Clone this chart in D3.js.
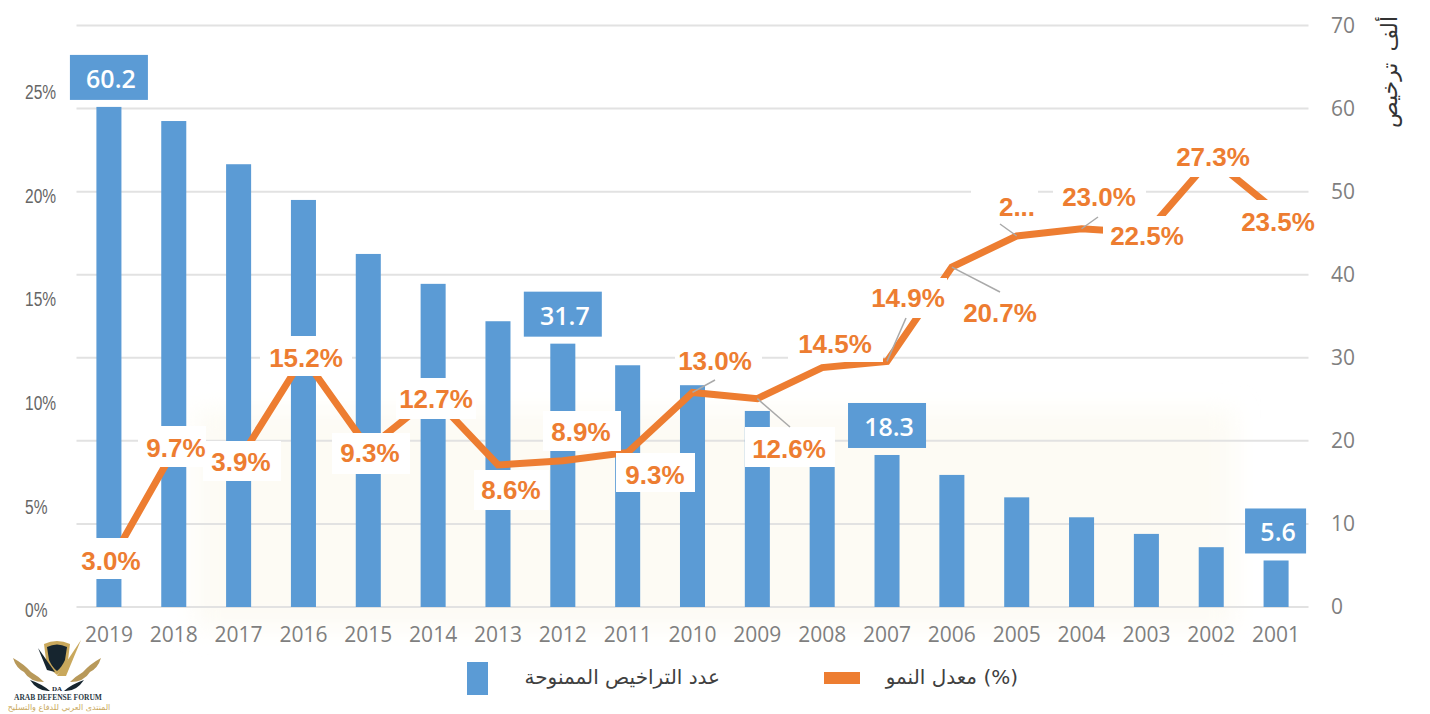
<!DOCTYPE html>
<html>
<head>
<meta charset="utf-8">
<script src="https://cdn.jsdelivr.net/npm/d3@7"></script>
<style>
  html, body { margin: 0; background: #fff; }
  svg { display: block; }
</style>
</head>
<body>
<svg id="chart"></svg>
<script>
const years = ["2019","2018","2017","2016","2015","2014","2013","2012","2011","2010","2009","2008","2007","2006","2005","2004","2003","2002","2001"];
const licences = [60.2,58.5,53.3,49,42.5,38.9,34.4,31.7,29.1,26.7,23.6,21,18.3,15.9,13.2,10.8,8.8,7.2,5.6];
// the line sits where the picture has it, which is not always what its label says
const growthPlotted = [2.2,7.7,7.2,12.2,7.8,10.3,7,7.2,7.6,10.5,10.2,11.7,12,16.55,18.05,18.4,18.2,21.8,19.25];
const growthLabels = ["3.0%","9.7%","3.9%","15.2%","9.3%","12.7%","8.6%","8.9%","9.3%","13.0%","12.6%","14.5%","14.9%","20.7%","2...","23.0%","22.5%","27.3%","23.5%"];
const leftTicks = [0,5,10,15,20,25];
const rightTicks = [0,10,20,30,40,50,60,70];
const calloutYears = ["2019","2012","2007","2001"];
const legendBars = "عدد التراخيص الممنوحة";
const legendLine = "معدل النمو (%)";
const axisTitle = "ألف ترخيص";

// label placement per year, in page pixels: [text x, text y, box left, box top, box right, box bottom]
const labelPlace = [
  [111,561,80,538,143,579],[176,448,138,426,206,467],[241,462,203,441,281,481],[306,358,260,336,352,376],
  [370,453,332,433,410,474],[436,399,396,378,476,419],[511,490,474,470,549,510],[581,432,543,411,621,451],
  [655,475,616,453,695,492],[715,361,675,341,762,380],[789,449,745,427,835,467],[835,344,788,325,883,362],
  [908,298,870,278,947,318],[1000,313,960,292,1040,332],[1017,207,971,188,1038,226],[1099,197,1053,177,1146,217],
  [1147,236,1103,216,1190,256],[1213,157,1172,137,1255,177],[1278,222,1238,200,1318,241]
];

// leader lines: year and the free end
const leaders = [["2010",715,380],["2009",790,427],["2007",906,318],["2006",1000,292],["2005",1000,224],["2004",1098,217]];

const width = 1430, height = 714;
const svg = d3.select("#chart").attr("width", width).attr("height", height);

const x = d3.scaleBand().domain(years).range([76.5, 1308.5]).paddingInner(0.614).paddingOuter(0.307);
const yBars = d3.scaleLinear().domain([0, 70]).range([607, 25.5]);
const yGrowth = d3.scaleLinear().domain([0, 25]).range([610, 92]);
const centre = y => x(y) + x.bandwidth() / 2;

const defs = svg.append("defs");
defs.append("filter").attr("id", "soft")
    .attr("x", "-10%").attr("y", "-20%").attr("width", "120%").attr("height", "140%")
    .append("feGaussianBlur").attr("stdDeviation", 12);

// faint cream smudge behind the lower half
svg.append("rect").attr("x", 195).attr("y", 410).attr("width", 1040).attr("height", 218)
   .attr("fill", "#fdfbf4").attr("filter", "url(#soft)");

// gridlines
svg.append("g").selectAll("line").data(rightTicks).join("line")
   .attr("x1", 76.5).attr("x2", 1308.5)
   .attr("y1", d => yBars(d)).attr("y2", d => yBars(d))
   .attr("stroke", "#e2e2e2").attr("stroke-width", 2);

// bars
svg.append("g").selectAll("rect").data(licences).join("rect")
   .attr("x", (d, i) => x(years[i]))
   .attr("width", x.bandwidth())
   .attr("y", d => yBars(d))
   .attr("height", d => yBars(0) - yBars(d))
   .attr("fill", "#5b9bd5");

// growth line
const line = d3.line().x((d, i) => centre(years[i])).y(d => yGrowth(d));
svg.append("path").datum(growthPlotted).attr("d", line)
   .attr("fill", "none").attr("stroke", "#ed7d31").attr("stroke-width", 7).attr("stroke-linejoin", "miter");

// white boxes of the data labels
svg.append("g").selectAll("rect").data(labelPlace).join("rect")
   .attr("x", d => d[2]).attr("y", d => d[3])
   .attr("width", d => d[4] - d[2]).attr("height", d => d[5] - d[3])
   .attr("fill", "#fff");

// leader lines
svg.append("g").selectAll("line").data(leaders).join("line")
   .attr("x1", d => centre(d[0])).attr("y1", d => yGrowth(growthPlotted[years.indexOf(d[0])]))
   .attr("x2", d => d[1]).attr("y2", d => d[2])
   .attr("stroke", "#a9a9a9").attr("stroke-width", 1.5);

svg.append("g").selectAll("text").data(growthLabels).join("text")
   .attr("x", (d, i) => labelPlace[i][0]).attr("y", (d, i) => labelPlace[i][1])
   .attr("text-anchor", "middle").attr("dominant-baseline", "central")
   .attr("font-family", "'Liberation Sans', Arial, sans-serif")
   .attr("font-weight", "bold").attr("font-size", 26)
   .attr("fill", "#ed7d31")
   .text(d => d);

// blue callouts on the bars, the 2001 one is narrower
const callouts = svg.append("g").selectAll("g").data(calloutYears).join("g")
   .attr("transform", y => `translate(${centre(y)},${yBars(licences[years.indexOf(y)])})`);
callouts.append("rect")
   .attr("x", y => y === "2001" ? -31 : -39).attr("y", -52)
   .attr("width", y => y === "2001" ? 61 : 78).attr("height", 45)
   .attr("fill", "#5b9bd5");
callouts.append("text").attr("y", -29).attr("x", 2)
   .attr("text-anchor", "middle").attr("dominant-baseline", "central")
   .attr("font-family", "'Open Sans', sans-serif").attr("font-weight", 600).attr("font-size", 25)
   .attr("fill", "#fff")
   .text(y => licences[years.indexOf(y)].toFixed(1));

// axes
const xAxis = svg.append("g").attr("transform", "translate(0,607)")
   .call(d3.axisBottom(x).tickSize(0).tickPadding(20));
xAxis.select(".domain").remove();
xAxis.selectAll("text").attr("font-family", "'Open Sans', sans-serif").attr("font-size", 21).attr("fill", "#7f7f7f");

const rightAxis = svg.append("g").attr("transform", "translate(1331,0)")
   .call(d3.axisRight(yBars).tickValues(rightTicks).tickSize(0).tickPadding(0));
rightAxis.select(".domain").remove();
rightAxis.selectAll("text").attr("font-family", "'Open Sans', sans-serif").attr("font-size", 21).attr("fill", "#7f7f7f");

// the left labels are squeezed in the picture
const leftAxis = svg.append("g").attr("transform", "translate(25,0) scale(0.74,1)")
   .call(d3.axisLeft(yGrowth).tickValues(leftTicks).tickFormat(d => d + "%").tickSize(0).tickPadding(0));
leftAxis.select(".domain").remove();
leftAxis.selectAll("text").attr("text-anchor", "start")
   .attr("font-family", "'Liberation Sans', sans-serif")
   .attr("font-size", 21).attr("fill", "#666");

// right axis title, reads downward from the top with its baseline on the right
svg.append("text").attr("transform", "translate(1389,72) rotate(-90)")
   .attr("text-anchor", "middle").attr("dominant-baseline", "central")
   .attr("font-family", "'DejaVu Sans', sans-serif").attr("font-size", 22).attr("word-spacing", 4).attr("fill", "#333")
   .text(axisTitle);

// legend
svg.append("rect").attr("x", 467).attr("y", 662).attr("width", 21).attr("height", 33).attr("fill", "#5b9bd5");
svg.append("text").attr("x", 720).attr("y", 677).attr("text-anchor", "end").attr("dominant-baseline", "central")
   .attr("font-family", "'DejaVu Sans', sans-serif").attr("font-size", 20).attr("fill", "#404040").text(legendBars);
svg.append("rect").attr("x", 824).attr("y", 672).attr("width", 36).attr("height", 12).attr("fill", "#ed7d31");
svg.append("text").attr("x", 1018).attr("y", 677).attr("text-anchor", "end").attr("dominant-baseline", "central")
   .attr("font-family", "'DejaVu Sans', sans-serif").attr("font-size", 20).attr("fill", "#404040").text(legendLine);

// forum logo, bottom left
const logo = svg.append("g");
logo.append("path").attr("d", "M44 644 Q57 638 70 644 L68 660 Q64 670 57 675 Q50 670 46 660 Z").attr("fill", "#c9a85c");
logo.append("path").attr("d", "M47 647 Q57 642 67 647 L65 660 Q62 667 57 671 Q52 667 49 660 Z").attr("fill", "#16252f");
logo.append("path").attr("d", "M57 676 L81 640 L66 676 Z").attr("fill", "#c9a85c");
logo.append("path").attr("d", "M38 648 L55 672 L47 670 Z").attr("fill", "#16252f");
logo.append("path").attr("d", "M13 658 Q24 664 31 672 Q38 676 44 682 Q30 682 24 672 Q16 668 13 658 Z").attr("fill", "#b8995a");
logo.append("path").attr("d", "M101 658 Q90 664 83 672 Q76 676 70 682 Q84 682 90 672 Q98 668 101 658 Z").attr("fill", "#b8995a");
logo.append("path").attr("d", "M30 680 Q42 684 50 691 Q38 692 30 680 Z").attr("fill", "#16252f");
logo.append("path").attr("d", "M84 680 Q72 684 64 691 Q76 692 84 680 Z").attr("fill", "#16252f");
logo.append("text").attr("x", 57).attr("y", 691).attr("text-anchor", "middle")
   .attr("font-family", "'Liberation Serif', serif").attr("font-weight", "bold").attr("font-size", 7).attr("fill", "#16252f").text("DA");
logo.append("text").attr("x", 58).attr("y", 700).attr("text-anchor", "middle")
   .attr("font-family", "'Liberation Serif', serif").attr("font-weight", "bold").attr("font-size", 7.5).attr("fill", "#2b3a45").text("ARAB DEFENSE FORUM");
logo.append("text").attr("x", 59).attr("y", 710).attr("text-anchor", "middle")
   .attr("font-family", "'DejaVu Sans', sans-serif").attr("font-size", 8).attr("fill", "#c9a85c").text("المنتدى العربي للدفاع والتسليح");
</script>
</body>
</html>
